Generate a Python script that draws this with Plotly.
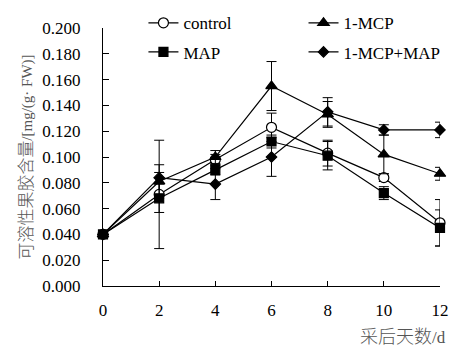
import plotly.graph_objects as go

days = [0, 2, 4, 6, 8, 10, 12]
control = [0.040, 0.071, 0.098, 0.123, 0.103, 0.084, 0.049]
control_err = [0.002, 0.042, 0.004, 0.011, 0.010, 0.003, 0.018]
mcp = [0.040, 0.081, 0.100, 0.155, 0.133, 0.102, 0.087]
mcp_err = [0.002, 0.013, 0.005, 0.019, 0.010, 0.015, 0.005]
map_ = [0.040, 0.068, 0.090, 0.112, 0.101, 0.072, 0.045]
map_err = [0.002, 0.011, 0.004, 0.005, 0.011, 0.005, 0.014]
mcp_map = [0.040, 0.084, 0.079, 0.100, 0.135, 0.121, 0.121]
mcp_map_err = [0.002, 0.004, 0.012, 0.015, 0.011, 0.004, 0.006]

y_ticks = [i * 0.02 for i in range(11)]
x_ticks = days

series = [
    ("control", control, control_err, "circle", "white", 10, "legend"),
    ("MAP", map_, map_err, "square", "black", 9, "legend"),
    ("1-MCP", mcp, mcp_err, "triangle-up", "black", 10, "legend2"),
    ("1-MCP+MAP", mcp_map, mcp_map_err, "diamond", "black", 8, "legend2"),
]

fig = go.Figure()
for name, vals, errs, sym, fill, size, leg in series:
    fig.add_trace(go.Scatter(
        x=days, y=vals, name=name, mode="lines+markers",
        legendgroup=name,
        line=dict(color="black", width=1.2),
        marker=dict(symbol=sym, size=size, color=fill,
                    line=dict(color="black", width=1.2)),
        error_y=dict(type="data", array=errs, visible=True,
                     color="black", thickness=1, width=5),
        cliponaxis=False, legend=leg,
    ))

SERIF = "Liberation Serif, Times New Roman, Tinos, DejaVu Serif, serif"
CJK_X = "<span style='font-family:Noto Sans CJK SC;font-weight:300;font-size:18px'>{}</span>"
CJK_Y = "<span style='font-family:Noto Sans CJK SC;font-weight:300;font-size:17px'>{}</span>"

fig.update_layout(
    width=467, height=350,
    margin=dict(l=103, r=27, t=28, b=64, autoexpand=False),
    paper_bgcolor="white", plot_bgcolor="white",
    font=dict(family=SERIF, size=17, color="black"),
    showlegend=True,
    legend=dict(x=0.12, y=0.985, yref="container", xanchor="left", yanchor="top",
                bgcolor="rgba(0,0,0,0)", font=dict(size=17, family=SERIF),
                tracegroupgap=4, itemwidth=30),
    legend2=dict(x=0.595, y=0.985, yref="container", xanchor="left", yanchor="top",
                 bgcolor="rgba(0,0,0,0)", font=dict(size=17, family=SERIF),
                 tracegroupgap=4, itemwidth=30),
    xaxis=dict(range=[0, 12], tickmode="array", tickvals=x_ticks,
               ticktext=[str(v) for v in x_ticks],
               tickfont=dict(family=SERIF, size=17),
               showgrid=False, zeroline=False, showline=True,
               linecolor="black", linewidth=1,
               ticks="inside", ticklen=5, tickcolor="black",
               ticklabelstandoff=9),
    yaxis=dict(range=[0, 0.2], tickmode="array", tickvals=y_ticks,
               ticktext=[f"{v:.3f}" for v in y_ticks],
               tickfont=dict(family=SERIF, size=17),
               showgrid=False, zeroline=False, showline=True,
               linecolor="black", linewidth=1,
               ticks="inside", ticklen=6, tickcolor="black",
               ticklabelstandoff=18,
               title=dict(text=CJK_Y.format("可溶性果胶含量") + "/[mg/(g· FW)]",
                          font=dict(size=15, color="#555", family=SERIF),
                          standoff=6)),
)

fig.add_annotation(
    text=CJK_X.format("采后天数") + "/d",
    xref="paper", yref="paper",
    x=1.025, y=-0.19, xanchor="right", yanchor="middle",
    showarrow=False, font=dict(size=17, color="#555", family=SERIF),
)

fig.write_html("out.html")
